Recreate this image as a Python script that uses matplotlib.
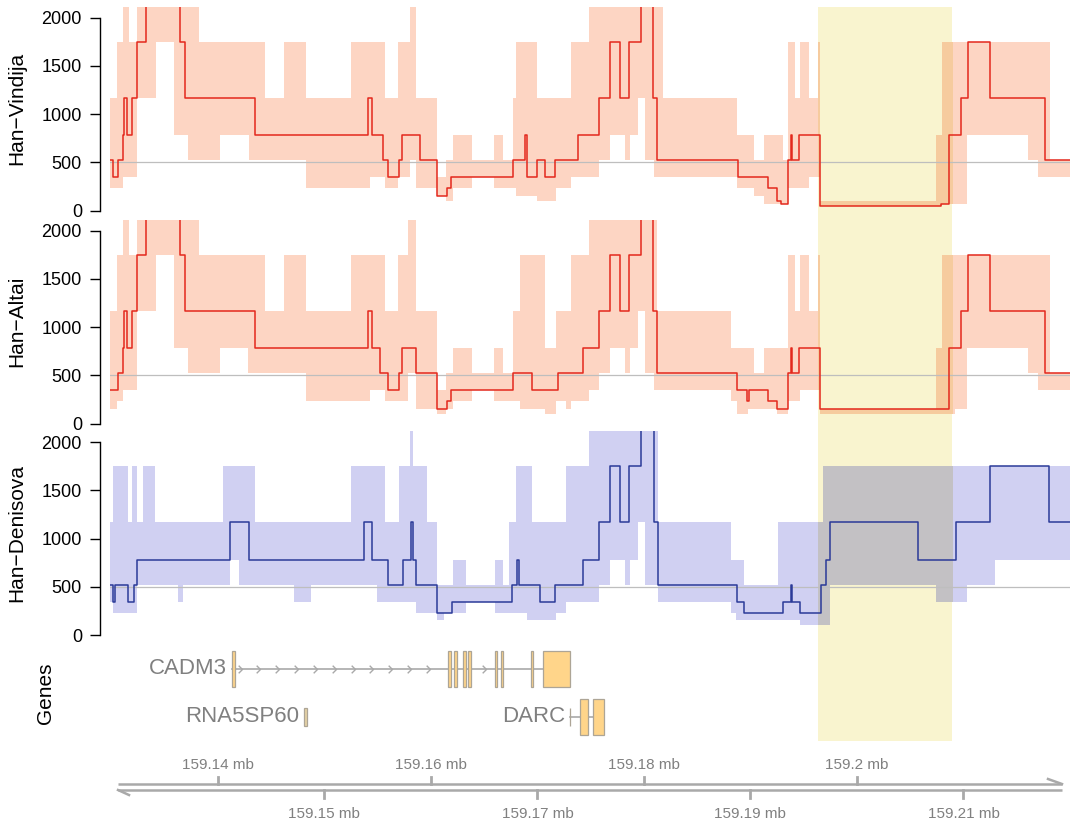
import numpy as np
import matplotlib.pyplot as plt
from matplotlib.patches import Rectangle
from matplotlib.path import Path
from matplotlib.transforms import blended_transform_factory

plt.rcParams['font.family'] = ['Liberation Sans', 'DejaVu Sans']

# genomic window and highlighted region, in kb
x_start, x_end = 159129.88, 159220.00
highlight = (159196.33, 159208.94)

# step lines: (start kb, value)
vindija_steps = [
    (159129.88, 519), (159130.13, 346), (159130.59, 519), (159131.07, 778), (159131.23, 1167),
    (159131.49, 778), (159131.91, 1167), (159132.37, 1750), (159133.27, 2625), (159136.44, 1750),
    (159136.89, 1167), (159143.45, 778), (159154.06, 1167), (159154.45, 778), (159155.48, 519),
    (159156.00, 346), (159156.97, 519), (159157.29, 778), (159158.97, 519), (159160.59, 154),
    (159161.50, 230), (159161.88, 346), (159167.70, 519), (159168.84, 778), (159169.00, 346),
    (159169.97, 519), (159170.75, 346), (159171.66, 519), (159173.83, 778), (159175.77, 1167),
    (159176.80, 1750), (159177.71, 1167), (159178.58, 1750), (159179.74, 2625), (159180.87, 1167),
    (159181.26, 519), (159188.86, 346), (159191.61, 230), (159192.51, 102), (159192.84, 68),
    (159193.55, 519), (159193.77, 778), (159193.94, 519), (159194.58, 778), (159196.56, 46),
    (159207.87, 68), (159208.68, 778), (159209.81, 1167), (159210.46, 1750), (159212.53, 1167),
    (159217.63, 519),
]
altai_steps = [
    (159129.88, 346), (159130.59, 519), (159131.07, 778), (159131.23, 1167), (159131.49, 778),
    (159131.91, 1167), (159132.37, 1750), (159133.27, 2625), (159136.44, 1750), (159136.89, 1167),
    (159143.45, 778), (159154.06, 1167), (159154.45, 778), (159155.26, 519), (159156.00, 346),
    (159156.97, 519), (159157.29, 778), (159158.65, 519), (159160.59, 154), (159161.50, 230),
    (159161.88, 346), (159167.70, 519), (159169.52, 346), (159171.95, 519), (159174.25, 778),
    (159175.77, 1167), (159176.80, 1750), (159177.71, 1167), (159178.58, 1750), (159179.74, 2625),
    (159180.87, 1167), (159181.26, 519), (159188.70, 346), (159189.67, 230), (159189.83, 346),
    (159191.61, 230), (159192.51, 154), (159193.55, 519), (159193.77, 778), (159193.94, 519),
    (159194.58, 778), (159196.56, 154), (159208.68, 778), (159209.81, 1167), (159210.46, 1750),
    (159212.53, 1167), (159217.63, 519),
]
denisova_steps = [
    (159129.88, 519), (159130.20, 346), (159130.33, 519), (159131.56, 346), (159132.14, 519),
    (159132.40, 778), (159141.19, 1167), (159142.91, 778), (159153.74, 1167), (159154.51, 778),
    (159155.97, 519), (159157.36, 778), (159158.17, 1167), (159158.33, 778), (159158.65, 519),
    (159160.59, 230), (159161.95, 346), (159167.64, 519), (159168.12, 778), (159168.25, 519),
    (159170.21, 346), (159171.63, 519), (159174.31, 778), (159175.77, 1167), (159176.80, 1750),
    (159177.71, 1167), (159178.58, 1750), (159179.74, 2625), (159180.94, 1167), (159181.33, 519),
    (159188.70, 346), (159189.41, 230), (159193.06, 346), (159193.77, 519), (159193.87, 346),
    (159194.68, 230), (159196.62, 519), (159197.10, 778), (159197.43, 1167), (159205.77, 778),
    (159209.29, 1167), (159212.46, 1750), (159218.06, 1167),
]

# confidence bands: (start kb, lower, upper)
vindija_band = [
    (159129.88, 230, 1167), (159130.52, 230, 1750), (159131.07, 346, 2625), (159131.65, 346, 1750),
    (159132.40, 1167, 2625), (159134.24, 1750, 2625), (159135.86, 778, 2625), (159137.22, 519, 2625),
    (159138.22, 519, 1750), (159140.22, 778, 1750), (159142.97, 519, 1750), (159144.42, 519, 1167),
    (159146.20, 519, 1750), (159148.30, 230, 1167), (159152.51, 230, 1750), (159154.29, 346, 1750),
    (159155.68, 230, 1167), (159156.87, 346, 1750), (159158.00, 519, 2625), (159158.65, 230, 1167),
    (159160.59, 154, 346), (159161.40, 102, 519), (159162.05, 230, 778), (159163.82, 346, 519),
    (159165.92, 230, 778), (159166.73, 230, 519), (159167.70, 230, 1167), (159168.03, 154, 1750),
    (159169.95, 102, 1167), (159171.72, 230, 1167), (159173.18, 346, 1750), (159174.80, 346, 2625),
    (159175.77, 519, 2625), (159176.80, 778, 2625), (159178.19, 519, 2625), (159178.68, 778, 2625),
    (159179.48, 1167, 2625), (159180.13, 519, 2625), (159180.94, 346, 2625), (159181.75, 346, 1167),
    (159188.70, 230, 778), (159190.32, 154, 519), (159191.29, 68, 778), (159193.06, 68, 519),
    (159193.55, 230, 1750), (159194.19, 230, 1167), (159194.68, 230, 1750), (159195.49, 346, 1167),
    (159196.30, 346, 1750), (159196.56, 46, 102), (159207.45, 46, 778), (159207.94, 68, 1750),
    (159210.36, 778, 1750), (159216.02, 519, 1750), (159216.99, 346, 1750), (159218.12, 346, 519),
]
altai_band = [
    (159129.88, 154, 1167), (159130.52, 230, 1750), (159131.07, 346, 2625), (159131.65, 346, 1750),
    (159132.40, 1167, 2625), (159134.24, 1750, 2625), (159135.86, 778, 2625), (159137.22, 519, 2625),
    (159138.22, 519, 1750), (159140.22, 778, 1750), (159142.81, 519, 1750), (159144.42, 519, 1167),
    (159146.20, 519, 1750), (159148.30, 230, 1167), (159152.51, 230, 1750), (159154.29, 346, 1750),
    (159155.68, 230, 1167), (159156.87, 230, 1750), (159157.84, 519, 2625), (159158.65, 154, 1167),
    (159160.59, 102, 346), (159161.40, 154, 519), (159162.05, 230, 778), (159163.82, 346, 519),
    (159165.92, 230, 778), (159166.73, 230, 519), (159167.70, 230, 1167), (159168.35, 154, 1750),
    (159170.75, 102, 778), (159171.72, 230, 1167), (159172.69, 154, 1167), (159173.18, 230, 1750),
    (159174.80, 346, 2625), (159175.77, 519, 2625), (159176.80, 778, 2625), (159178.19, 519, 2625),
    (159178.68, 778, 2625), (159179.48, 1167, 2625), (159180.13, 519, 2625), (159180.94, 346, 2625),
    (159181.26, 346, 1167), (159188.21, 230, 778), (159188.70, 102, 778), (159189.73, 154, 778),
    (159190.32, 154, 519), (159191.29, 154, 778), (159192.51, 102, 778), (159193.55, 230, 1750),
    (159194.19, 230, 1167), (159194.68, 346, 1750), (159195.49, 346, 1167), (159196.30, 346, 1750),
    (159196.56, 102, 154), (159207.45, 102, 778), (159207.94, 102, 1750), (159209.16, 154, 1750),
    (159210.36, 778, 1750), (159216.02, 519, 1750), (159216.99, 346, 1750), (159218.12, 346, 519),
]
denisova_band = [
    (159129.88, 346, 1167), (159130.20, 230, 1750), (159131.56, 230, 1167), (159131.98, 230, 1750),
    (159132.46, 519, 1167), (159132.95, 519, 1750), (159134.08, 519, 1167), (159136.28, 346, 1167),
    (159136.76, 519, 1167), (159140.48, 519, 1750), (159141.19, 778, 1750), (159141.99, 519, 1750),
    (159143.45, 519, 1167), (159147.17, 346, 1167), (159148.72, 519, 1167), (159152.51, 519, 1750),
    (159154.93, 346, 1750), (159155.74, 346, 1167), (159157.03, 346, 1750), (159158.00, 346, 2625),
    (159158.33, 346, 1750), (159158.65, 230, 1750), (159159.62, 230, 1167), (159160.59, 154, 519),
    (159161.24, 230, 519), (159162.05, 230, 778), (159163.34, 346, 519), (159165.99, 230, 778),
    (159166.73, 230, 519), (159167.31, 230, 1167), (159168.03, 230, 1750), (159169.00, 154, 1750),
    (159169.46, 154, 1167), (159171.72, 230, 1167), (159172.69, 346, 1750), (159174.80, 346, 2625),
    (159175.77, 519, 2625), (159176.80, 778, 2625), (159178.19, 519, 2625), (159178.68, 778, 2625),
    (159179.48, 1167, 2625), (159180.13, 519, 2625), (159181.33, 346, 1167), (159188.21, 230, 778),
    (159188.63, 154, 778), (159189.41, 154, 519), (159192.58, 154, 1167), (159194.68, 102, 1167),
    (159196.85, 102, 1750), (159197.43, 519, 1750), (159207.39, 346, 1750), (159210.36, 519, 1750),
    (159212.95, 778, 1750),
]

# genes: exons and non-coding parts (start, end kb)
cadm3_exons = [(159141.29, 159141.60), (159161.62, 159161.85), (159162.16, 159162.44),
               (159163.00, 159163.29), (159163.47, 159163.76), (159166.01, 159166.20),
               (159166.57, 159166.76), (159169.39, 159169.58), (159170.49, 159173.05)]
rna5sp60_parts = [(159148.08, 159148.33)]
darc_utr = [(159173.03, 159173.10)]
darc_exons = [(159174.00, 159174.77), (159175.18, 159176.24)]

axis_top_ticks = [159140, 159160, 159180, 159200]
axis_bottom_ticks = [159150, 159170, 159190, 159210]

W, H = 1070, 824


def px_rect(left, top, width, height):
    return [left / W, 1 - (top + height) / H, width / W, height / H]


fig = plt.figure(figsize=(W / 100, H / 100), dpi=100)

# highlight behind everything
ax_bg = fig.add_axes(px_rect(110, 7, 960, 734), zorder=0)
ax_bg.set_xlim(x_start, x_end)
ax_bg.axvspan(highlight[0], highlight[1], color='#F9F4CF', lw=0)
ax_bg.axis('off')


def draw_panel(top, label, steps, band, fill, fill_hl, line_col):
    ax = fig.add_axes(px_rect(110, top, 960, 203.6), zorder=1)
    ax.set_facecolor('none')
    bx = [b[0] for b in band] + [x_end]
    lo = [b[1] for b in band]
    hi = [b[2] for b in band]
    lo.append(lo[-1])
    hi.append(hi[-1])
    ax.fill_between(bx, lo, hi, step='post', color=fill, lw=0, zorder=1)
    # band seen through the highlight gets a darker, blended tone
    hl = ax.fill_between(bx, lo, hi, step='post', color=fill_hl, lw=0, zorder=1.5)
    clip = Rectangle((highlight[0], -500), highlight[1] - highlight[0], 5000,
                     transform=ax.transData)
    hl.set_clip_path(clip)
    ax.axhline(500, color='#BEBEBE', lw=0.9, zorder=2)
    sx = [s[0] for s in steps] + [x_end]
    sy = [s[1] for s in steps]
    sy.append(sy[-1])
    ax.step(sx, sy, where='post', color=line_col, lw=1.1, zorder=3)
    ax.set_xlim(x_start, x_end)
    ax.set_ylim(0, 2110)
    for s in ['top', 'right', 'bottom']:
        ax.spines[s].set_visible(False)
    ax.spines['left'].set_bounds(0, 2000)
    ax.spines['left'].set_position(('outward', 7.2))
    ax.spines['left'].set_linewidth(1.0)
    ax.set_yticks([0, 500, 1000, 1500, 2000])
    ax.set_xticks([])
    ax.tick_params(axis='y', length=7, width=1.0, labelsize=13, pad=6)
    fig.text(17 / W, 1 - (top + 101.8) / H, label, rotation=90,
             ha='center', va='center', fontsize=15)
    return ax


draw_panel(6.9, 'Han\u2212Vindija', vindija_steps, vindija_band, '#FDD5C3', '#F6CB9E', '#E3281C')
draw_panel(219.9, 'Han\u2212Altai', altai_steps, altai_band, '#FDD5C3', '#F6CB9E', '#E3281C')
draw_panel(431.4, 'Han\u2212Denisova', denisova_steps, denisova_band, '#D0D0F2', '#C3C1C4', '#2B3A98')

# gene track
ax_g = fig.add_axes(px_rect(110, 645, 960, 96), zorder=1)
ax_g.set_facecolor('none')
ax_g.set_xlim(x_start, x_end)
ax_g.set_ylim(1.5, -0.5)
ax_g.axis('off')
fig.text(45 / W, 1 - 693 / H, 'Genes', rotation=90, ha='center', va='center', fontsize=15)

gray = '#A9A9A9'
exon_fill = '#FFD58A'
exon_edge = '#ADA596'
chevron = Path([(-1, 1), (0, 0), (-1, -1)], [Path.MOVETO, Path.LINETO, Path.LINETO])
chev_grid = 159142.23 + 1.768 * np.arange(0, 60)

genes = [('CADM3', 0, cadm3_exons, []),
         ('RNA5SP60', 1, [], rna5sp60_parts),
         ('DARC', 1, darc_exons, darc_utr)]

for name, row, exons, utrs in genes:
    parts = sorted([(s, e, 0.75) for s, e in exons] + [(s, e, 0.38) for s, e in utrs])
    g0, g1 = parts[0][0], parts[-1][1]
    if len(parts) > 1:
        ax_g.plot([g0, g1], [row, row], color=gray, lw=1.2, zorder=1)
    for (s0, e0, _), (s1, e1, _) in zip(parts[:-1], parts[1:]):
        cx = chev_grid[(chev_grid >= e0 + 0.6) & (chev_grid <= s1 - 0.7)]
        if len(cx):
            ax_g.plot(cx, [row] * len(cx), ls='none', marker=chevron, ms=5.5,
                      mew=1.0, mec=gray, mfc='none', zorder=2)
    for s, e, h in parts:
        face = exon_fill if h > 0.5 else '#E6D2A6'
        ax_g.add_patch(Rectangle((s, row - h / 2), e - s, h, facecolor=face,
                                 edgecolor=exon_edge, lw=0.9, zorder=3))
    ax_g.annotate(name, xy=(g0, row), xytext=(-3.5, 0), textcoords='offset points',
                  ha='right', va='center', fontsize=16, color='#808080')

# genome axis
ax_x = fig.add_axes(px_rect(110, 745, 960, 79), zorder=1)
ax_x.set_xlim(x_start, x_end)
ax_x.set_ylim(79, 0)
ax_x.axis('off')
tr = blended_transform_factory(ax_x.transAxes, ax_x.transData)
l0, l1 = 8 / 960, 952 / 960
for y in (39, 45):
    ax_x.plot([l0, l1], [y, y], transform=tr, color=gray, lw=1.8, solid_capstyle='butt')
ax_x.plot([l1 - 14 / 960, l1], [34, 39], transform=tr, color=gray, lw=1.8)
ax_x.plot([l0, l0 + 11 / 960], [45, 50], transform=tr, color=gray, lw=1.8)
for t in axis_top_ticks:
    ax_x.plot([t, t], [32, 39], color=gray, lw=2)
    ax_x.text(t, 20, f'{t / 1000:g} mb', ha='center', va='center', fontsize=11, color='#808080')
for t in axis_bottom_ticks:
    ax_x.plot([t, t], [45, 53], color=gray, lw=2)
    ax_x.text(t, 69, f'{t / 1000:g} mb', ha='center', va='center', fontsize=11, color='#808080')

fig.savefig('out.png', dpi=100)
